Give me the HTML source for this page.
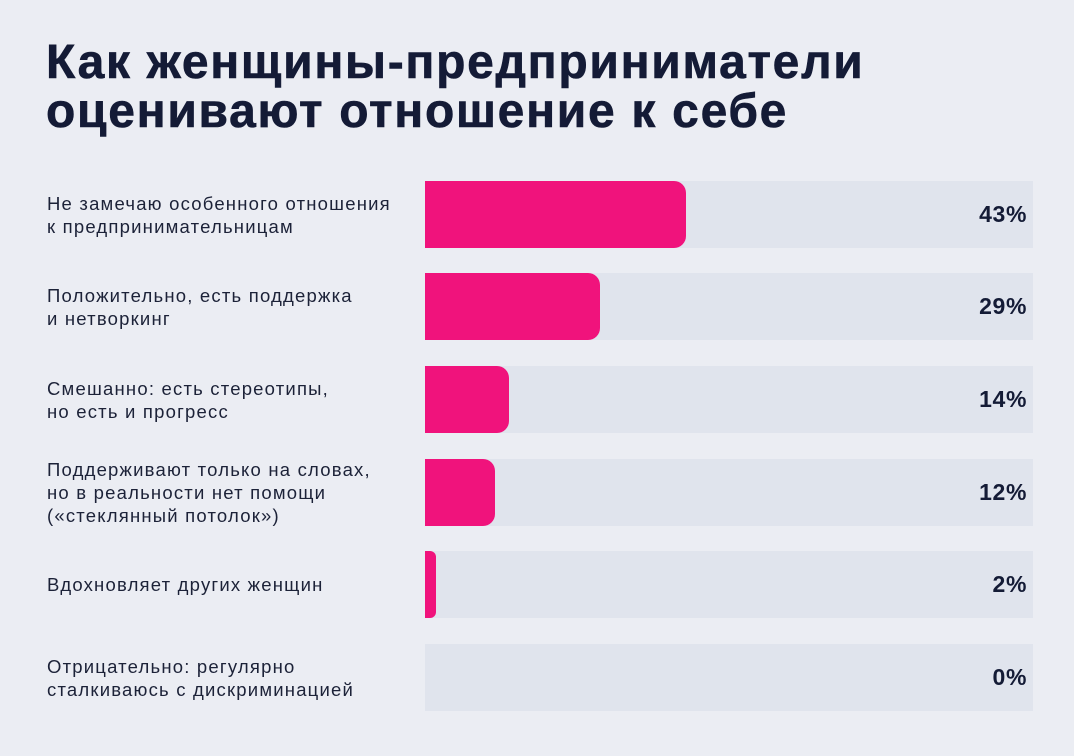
<!DOCTYPE html>
<html><head><meta charset="utf-8"><style>
body{margin:0;width:1074px;height:756px;background:#ebedf3;font-family:"Liberation Sans",sans-serif;position:relative;overflow:hidden;color:#141b36}
h1{position:absolute;left:46px;top:38px;margin:0;font-size:48px;line-height:49px;font-weight:bold;letter-spacing:1.7px;color:#141b36;-webkit-text-stroke:0.6px #141b36}
.row{position:absolute;left:0;width:1074px;height:67px}
.lab{position:absolute;left:47px;top:0;height:67px;display:flex;align-items:center;font-size:18.5px;line-height:23px;letter-spacing:1.2px;color:#1c2238}
.track{position:absolute;left:425px;top:0;width:608px;height:67px;background:#e0e4ed}
.bar{position:absolute;left:0;top:0;height:67px;background:#f0137c;border-radius:0 12px 12px 0}
.pct{position:absolute;right:6px;top:0;line-height:67px;font-size:23px;letter-spacing:0.6px;font-weight:bold;color:#141b36}
</style></head><body>
<h1>Как женщины-предприниматели<br>оценивают отношение к себе</h1>
<div class="row" style="top:181px"><div class="lab">Не замечаю особенного отношения<br>к предпринимательницам</div><div class="track"><div class="bar" style="width:261px"></div><div class="pct">43%</div></div></div>
<div class="row" style="top:273px"><div class="lab">Положительно, есть поддержка<br>и нетворкинг</div><div class="track"><div class="bar" style="width:175px"></div><div class="pct">29%</div></div></div>
<div class="row" style="top:366px"><div class="lab">Смешанно: есть стереотипы,<br>но есть и прогресс</div><div class="track"><div class="bar" style="width:84px"></div><div class="pct">14%</div></div></div>
<div class="row" style="top:459px"><div class="lab">Поддерживают только на словах,<br>но в реальности нет помощи<br>(«стеклянный потолок»)</div><div class="track"><div class="bar" style="width:70px"></div><div class="pct">12%</div></div></div>
<div class="row" style="top:551px"><div class="lab">Вдохновляет других женщин</div><div class="track"><div class="bar" style="width:11px;border-radius:0 6px 6px 0"></div><div class="pct">2%</div></div></div>
<div class="row" style="top:644px"><div class="lab">Отрицательно: регулярно<br>сталкиваюсь с дискриминацией</div><div class="track"><div class="pct">0%</div></div></div>
</body></html>
